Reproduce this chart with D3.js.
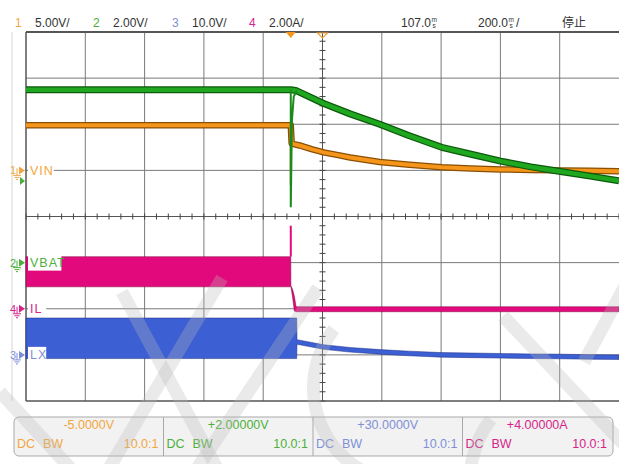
<!DOCTYPE html>
<html>
<head>
<meta charset="utf-8">
<script src="https://cdn.jsdelivr.net/npm/d3@7"></script>
<style>
  body { margin: 0; background: #fff; }
  svg { display: block; font-family: "Liberation Sans", Arial, sans-serif; }
</style>
</head>
<body>
<svg id="scope" width="619" height="464"></svg>
<script>
// channel settings (header + footer)
var chNumbers = ["1", "2", "3", "4"];
var chScaleText = ["5.00V/", "2.00V/", "10.0V/", "2.00A/"];
var chOffsetText = ["-5.0000V", "+2.00000V", "+30.0000V", "+4.00000A"];
var chPerDiv = [5, 2, 10, 2];
var chCenter = [-5, 2, 30, 4];
var chLabels = ["VIN", "VBAT", "LX", "IL"];
var chTextColor = ["#f2a640", "#4db03a", "#7f90d6", "#d6258a"];
var chTraceColor = ["#f5961a", "#1fa81f", "#3d5fd4", "#e2097c"];
var chDarkColor = ["#8a4f05", "#0d5a0d", "#17277a", "#7a0440"];

// time base
var delayMs = 107.0, msPerDiv = 200.0;

// CH1 VIN (V)
var vinTime = [-893, 0, 3, 30, 70, 111, 160, 200, 250, 300, 400, 509, 608, 708, 810, 910, 1010, 1107];
var vinVolts = [4.9, 4.9, 2.9, 2.7, 2.3, 1.95, 1.65, 1.4, 1.15, 0.9, 0.6, 0.35, 0.2, 0.1, 0.05, 0.0, -0.05, -0.1];
var vinDipTime = [0, 0];
var vinDipVolts = [4.9, -1.6];

// CH2 VBAT (V)
var vbatTime = [-893, 0, 20, 111, 200, 300, 400, 509, 608, 708, 810, 910, 1010, 1107];
var vbatVolts = [7.5, 7.5, 7.45, 6.9, 6.45, 6.0, 5.5, 5.0, 4.7, 4.4, 4.15, 3.95, 3.75, 3.55];
var vbatDipTime = [0, 0, 4, 10, 20];
var vbatDipVolts = [7.5, 2.4, 6.2, 7.2, 7.45];

// CH4 IL (A) envelope
var ilTime = [-893, 0, 0.5, 6, 12, 18, 1107];
var ilMax = [2.26, 2.26, 1.0, 0.85, 0.55, 0.09, 0.09];
var ilMin = [0.95, 0.95, 0.95, 0.5, -0.1, -0.13, -0.13];
var ilSpikeTime = [0, 0];
var ilSpikeAmps = [2.26, 3.6];

// CH3 LX (V) envelope
var lxTime = [-893, 20, 21, 111, 200, 300, 400, 509, 608, 708, 810, 910, 1010, 1107];
var lxMax = [8.0, 8.0, 3.3, 2.2, 1.6, 1.15, 0.8, 0.5, 0.4, 0.3, 0.2, 0.15, 0.05, 0.0];
var lxMin = [-0.8, -0.8, 2.3, 1.2, 0.6, 0.15, -0.2, -0.5, -0.6, -0.7, -0.8, -0.85, -0.95, -1.0];

var svg = d3.select("#scope");
var plotL = 26, plotR = 619, plotT = 32, plotB = 401;

var x = d3.scaleLinear()
  .domain([delayMs - 5 * msPerDiv, delayMs + 5 * msPerDiv])
  .range([plotL, plotR]);
var xDiv = d3.scaleLinear().domain([0, 10]).range([plotL, plotR]);
var yDiv = d3.scaleLinear().domain([-4, 4]).range([plotB, plotT]);
var yRow = d3.scaleLinear().domain([0, 8]).range([plotT, plotB]);

function yCh(ch) {
  return function (v) { return yDiv((v - chCenter[ch]) / chPerDiv[ch]); };
}
function zip(a, b) { return a.map(function (d, i) { return [d, b[i]]; }); }
function zip3(a, b, c) { return a.map(function (d, i) { return [d, b[i], c[i]]; }); }

// faint frame line at far left
svg.append("line").attr("x1", 12).attr("x2", 12).attr("y1", plotT).attr("y2", plotB)
  .attr("stroke", "#d6d6d6");

// grid
var grid = svg.append("g");
grid.selectAll(".vx").data(d3.range(1, 10)).enter().append("line")
  .attr("x1", xDiv).attr("x2", xDiv).attr("y1", plotT).attr("y2", plotB)
  .attr("stroke", function (d) { return d === 5 ? "#555" : "#7a7a7a"; })
  .attr("stroke-width", 1);
grid.selectAll(".hy").data(d3.range(1, 8)).enter().append("line")
  .attr("y1", yRow).attr("y2", yRow)
  .attr("x1", plotL).attr("x2", plotR)
  .attr("stroke", function (d) { return d === 4 ? "#555" : "#7a7a7a"; })
  .attr("stroke-width", 1);

// minor ticks on center lines
var xMinor = d3.range(0, 50.01, 1).map(function (d) { return d / 5; });
grid.selectAll(".tx").data(xMinor).enter().append("line")
  .attr("x1", xDiv).attr("x2", xDiv)
  .attr("y1", yDiv(0) - 3).attr("y2", yDiv(0) + 3)
  .attr("stroke", "#444");
var yMinor = d3.range(-20, 20.01, 1).map(function (d) { return d / 5; });
grid.selectAll(".ty").data(yMinor).enter().append("line")
  .attr("y1", yDiv).attr("y2", yDiv)
  .attr("x1", xDiv(5) - 3).attr("x2", xDiv(5) + 3)
  .attr("stroke", "#444");

// border
svg.append("line").attr("x1", plotL).attr("x2", plotR).attr("y1", plotT).attr("y2", plotT)
  .attr("stroke", "#555").attr("stroke-width", 2);
svg.append("line").attr("x1", plotL).attr("x2", plotR).attr("y1", plotB).attr("y2", plotB)
  .attr("stroke", "#555").attr("stroke-width", 1.5);
svg.append("line").attr("x1", plotL).attr("x2", plotL).attr("y1", plotT).attr("y2", plotB)
  .attr("stroke", "#555").attr("stroke-width", 1.5);

var traces = svg.append("g");

// envelope channel (IL, LX)
function drawBand(ch, t, hi, lo) {
  var y = yCh(ch);
  var area = d3.area()
    .x(function (d) { return x(d[0]); })
    .y0(function (d) { return y(d[2]); })
    .y1(function (d) { return y(d[1]); });
  var data = zip3(t, hi, lo);
  traces.append("path").attr("d", area(data))
    .attr("fill", chTraceColor[ch])
    .attr("stroke", chDarkColor[ch]).attr("stroke-width", 0.8)
    .attr("stroke-opacity", 0.6);
}

// line channel (VIN, VBAT)
function drawLine(ch, t, v, w) {
  var y = yCh(ch);
  var line = d3.line()
    .x(function (d) { return x(d[0]); })
    .y(function (d) { return y(d[1]); });
  var data = zip(t, v);
  traces.append("path").attr("d", line(data)).attr("fill", "none")
    .attr("stroke", chDarkColor[ch]).attr("stroke-width", w + 1.5)
    .attr("stroke-linejoin", "round");
  traces.append("path").attr("d", line(data)).attr("fill", "none")
    .attr("stroke", chTraceColor[ch]).attr("stroke-width", w - 1)
    .attr("stroke-linejoin", "round");
}

function drawThin(ch, t, v, color) {
  var y = yCh(ch);
  var line = d3.line()
    .x(function (d) { return x(d[0]); })
    .y(function (d) { return y(d[1]); });
  traces.append("path").attr("d", line(zip(t, v))).attr("fill", "none")
    .attr("stroke", color).attr("stroke-width", 2);
}

drawBand(3, ilTime, ilMax, ilMin);
drawThin(3, ilSpikeTime, ilSpikeAmps, chTraceColor[3]);
drawBand(2, lxTime, lxMax, lxMin);
drawLine(0, vinTime, vinVolts, 5);
drawThin(0, vinDipTime, vinDipVolts, chDarkColor[0]);
drawLine(1, vbatTime, vbatVolts, 5.5);
drawThin(1, vbatDipTime, vbatDipVolts, "#1a8a1a");

// channel markers + labels on the left
var markerCh = [0, 1, 3, 2];
markerCh.forEach(function (ch) {
  var yg = yCh(ch)(0);
  var g = svg.append("g");
  var lbl = chLabels[ch];
  var lw = lbl.length * 7.6 + 3;
  g.append("rect").attr("x", 28).attr("y", yg - 8).attr("width", lw).attr("height", 16)
    .attr("fill", "#fff");
  g.append("text").attr("x", 30).attr("y", yg + 4.5)
    .attr("font-size", 12.5).attr("letter-spacing", 1)
    .attr("fill", chTextColor[ch]).text(lbl);
  g.append("text").attr("x", 10).attr("y", yg + 4)
    .attr("font-size", 11).attr("fill", chTextColor[ch]).text(chNumbers[ch]);
  g.append("path")
    .attr("d", "M19," + (yg - 4) + "L25," + yg + "L19," + (yg + 4) + "Z")
    .attr("fill", chTextColor[ch]);
  g.append("path")
    .attr("d", "M17," + (yg - 2) + "V" + (yg + 5) +
      "M13," + (yg + 5) + "H21M14.5," + (yg + 7) + "H19.5M16," + (yg + 9) + "H18")
    .attr("stroke", chTextColor[ch]).attr("stroke-width", 1).attr("fill", "none");
});
// ch2 offset arrow near ch1 marker
svg.append("path")
  .attr("d", "M20,177L25,181L20,185Z").attr("fill", chTextColor[1]);

// trigger markers on top edge
svg.append("path")
  .attr("d", "M" + (x(0) - 5) + "," + plotT + "L" + (x(0) + 5) + "," + plotT + "L" + x(0) + "," + (plotT + 6) + "Z")
  .attr("fill", "#f5961a");
svg.append("path")
  .attr("d", "M" + (x(delayMs) - 5) + "," + (plotT + 1) + "L" + (x(delayMs) + 5) + "," + (plotT + 1) + "L" + x(delayMs) + "," + (plotT + 6) + "Z")
  .attr("fill", "none").attr("stroke", "#f5a640").attr("stroke-width", 1.2);

// header
var head = svg.append("g").attr("font-size", 12).attr("fill", "#333");
var numX = [15, 93, 172, 249], scX = [35, 113, 192, 269];
chNumbers.forEach(function (n, i) {
  head.append("text").attr("x", numX[i]).attr("y", 27).attr("fill", chTextColor[i]).text(n);
  head.append("text").attr("x", scX[i]).attr("y", 27).text(chScaleText[i]);
});
function timeText(xEnd, val, slash) {
  head.append("text").attr("x", xEnd).attr("y", 27).attr("text-anchor", "end")
    .text(val.toFixed(1));
  head.append("text").attr("x", xEnd + 0.5).attr("y", 22).attr("font-size", 6.5).text("m");
  head.append("text").attr("x", xEnd + 1.5).attr("y", 27.5).attr("font-size", 6.5).text("s");
  if (slash) head.append("text").attr("x", xEnd + 8).attr("y", 27).text("/");
}
timeText(431, delayMs, false);
timeText(508, msPerDiv, true);
head.append("text").attr("x", 562).attr("y", 27)
  .attr("font-family", "'Noto Sans CJK SC', sans-serif").attr("font-size", 12).text("停止");

// footer panel
var foot = svg.append("g");
foot.append("rect").attr("x", 14).attr("y", 417).attr("width", 599).attr("height", 39)
  .attr("rx", 5).attr("fill", "#f2f2f2").attr("stroke", "#a9a9a9");
var cellX = d3.scaleLinear().domain([0, 4]).range([14, 612]);
d3.range(1, 4).forEach(function (i) {
  foot.append("line").attr("x1", cellX(i)).attr("x2", cellX(i)).attr("y1", 417).attr("y2", 456)
    .attr("stroke", "#a9a9a9");
});
chOffsetText.forEach(function (s, i) {
  var x0 = cellX(i), x1 = cellX(i + 1);
  var g = foot.append("g").attr("fill", chTextColor[i]).attr("font-size", 12.5);
  g.append("text").attr("x", (x0 + x1) / 2).attr("y", 429).attr("text-anchor", "middle").text(s);
  g.append("text").attr("x", x0 + 3).attr("y", 448).text("DC");
  g.append("text").attr("x", x0 + 29).attr("y", 448).text("BW");
  g.append("text").attr("x", x1 - 5).attr("y", 448).attr("text-anchor", "end").text("10.0:1");
});

// faint watermark strokes
var wmSegments = [
  [[0, 392], [72, 470]],
  [[108, 470], [222, 278]],
  [[122, 292], [218, 470]],
  [[196, 470], [318, 288]],
  [[503, 316], [625, 446]],
  [[625, 286], [584, 362]]
];
var wm = svg.append("g").attr("stroke", "rgba(185,185,185,0.3)")
  .attr("stroke-width", 13).attr("fill", "none").attr("stroke-linecap", "butt");
wmSegments.forEach(function (s) { wm.append("path").attr("d", d3.line()(s)); });
var arc = d3.arc().innerRadius(88).outerRadius(101);
wm.append("path").attr("transform", "translate(408,388)")
  .attr("d", arc({ startAngle: -2.9, endAngle: -0.9 })).attr("fill", "rgba(185,185,185,0.3)")
  .attr("stroke", "none");
wm.append("path").attr("transform", "translate(565,478)")
  .attr("d", arc({ startAngle: -1.9, endAngle: -0.9 })).attr("fill", "rgba(185,185,185,0.3)")
  .attr("stroke", "none");
</script>
</body>
</html>
